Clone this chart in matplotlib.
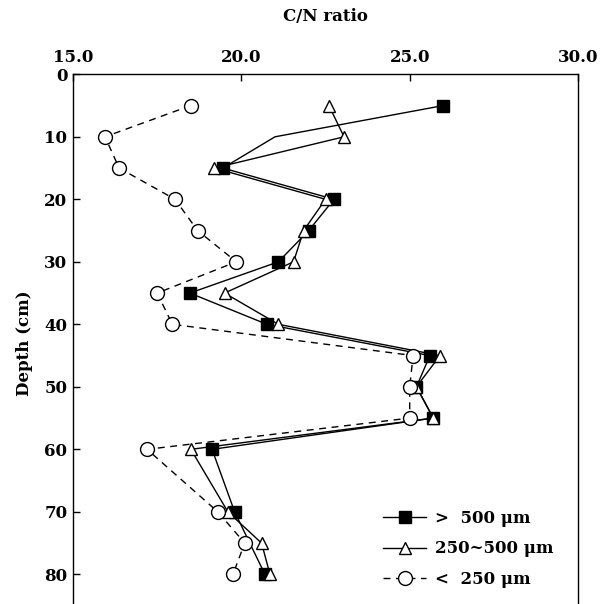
import matplotlib
matplotlib.use("Agg")
import matplotlib.pyplot as plt

plt.rcParams['font.family'] = ['DejaVu Serif']
plt.rcParams['font.weight'] = 'bold'

depth_large = [5, 10, 15, 20, 25, 30, 35, 40, 45, 50, 55, 60, 70, 80]
cn_large = [26.0, 21.0, 19.45, 22.75, 22.0, 21.1, 18.47, 20.76, 25.6, 25.2, 25.7, 19.13, 19.8, 20.7]

depth_mid = [5, 10, 15, 20, 25, 30, 35, 40, 45, 50, 55, 60, 70, 75, 80]
cn_mid = [22.6, 23.05, 19.2, 22.5, 21.85, 21.55, 19.5, 21.1, 25.9, 25.2, 25.7, 18.5, 19.6, 20.6, 20.85]

depth_small = [5, 10, 15, 20, 25, 30, 35, 40, 45, 50, 55, 60, 70, 75, 80]
cn_small = [18.5, 15.95, 16.37, 18.03, 18.7, 19.85, 17.5, 17.95, 25.1, 25.0, 25.0, 17.2, 19.3, 20.1, 19.75]

labels = [">  500 μm", "250~500 μm", "<  250 μm"]

fig = plt.figure(figsize=(6.02, 6.04), dpi=100)
ax = fig.add_axes([0.1213, -0.013, 0.8389, 0.890])

# the first series has no marker drawn at 10 cm in the original
marks = [i for i in range(len(depth_large)) if depth_large[i] != 10]
ax.plot(cn_large, depth_large, color='black', lw=1.0, marker='s', ms=9,
        mfc='black', mec='black', markevery=marks, label=labels[0])
ax.plot(cn_mid, depth_mid, color='black', lw=1.0, marker='^', ms=9,
        mfc='white', mec='black', label=labels[1])
ax.plot(cn_small, depth_small, color='black', lw=1.0, ls=(0, (5, 4)), marker='o', ms=10,
        mfc='white', mec='black', label=labels[2])

ax.set_xlim(15, 30)
ax.set_ylim(86, 0)
ax.xaxis.tick_top()
ax.xaxis.set_label_position('top')
ax.set_xticks([15, 20, 25, 30])
ax.set_xticklabels(["15.0", "20.0", "25.0", "30.0"])
ax.set_yticks(range(0, 81, 10))
ax.tick_params(direction='in', length=5, width=1, labelsize=12, pad=4)
ax.tick_params(axis='x', pad=6)
ax.set_xlabel("C/N ratio", fontsize=12, fontweight='bold', labelpad=20)
ax.set_ylabel("Depth (cm)", fontsize=12, fontweight='bold', labelpad=8)
for s in ax.spines.values():
    s.set_linewidth(1.0)

ax.legend(loc='upper left', bbox_to_anchor=(368 / 602, 1 - 495 / 604),
          bbox_transform=fig.transFigure, frameon=False, fontsize=12,
          handlelength=2.6, handletextpad=0.5, labelspacing=0.8)

fig.savefig("out.png", dpi=100)
